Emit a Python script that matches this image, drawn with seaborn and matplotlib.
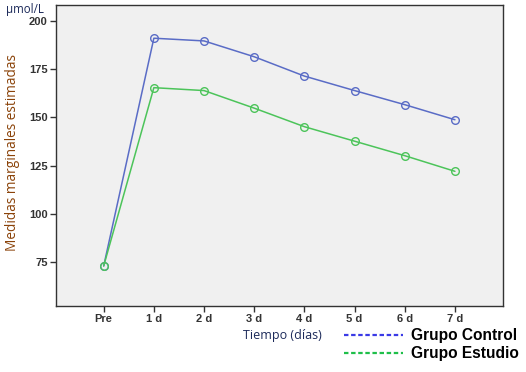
import pandas as pd
import seaborn as sns
import matplotlib.pyplot as plt
from matplotlib.lines import Line2D

# Datos
tiempos = ['Pre', '1 d', '2 d', '3 d', '4 d', '5 d', '6 d', '7 d']
control = [73, 190.9, 189.5, 181.3, 171.3, 163.8, 156.5, 148.7]
estudio = [73, 165.3, 163.8, 154.7, 145.1, 137.6, 130.1, 122.0]
grupos = ['Grupo Control', 'Grupo Estudio']
colores_lineas = ['#5a6cc6', '#4cc45a']
colores_leyenda = ['#3a3ae6', '#1fbf4a']

df = pd.DataFrame({
    'Tiempo': tiempos * 2,
    'Valor': control + estudio,
    'Grupo': [grupos[0]] * len(tiempos) + [grupos[1]] * len(tiempos),
})

sns.set_style('ticks')
plt.rcParams['font.family'] = ['Liberation Sans', 'DejaVu Sans']

fig = plt.figure(figsize=(5.26, 3.72), dpi=100)
ax = fig.add_axes([0.1065, 0.178, 0.849, 0.8086])
ax.set_facecolor('#f0f0f0')

sns.lineplot(data=df, x='Tiempo', y='Valor', hue='Grupo', sort=False,
             palette=dict(zip(grupos, colores_lineas)), marker='o',
             markersize=5.5, markerfacecolor='none', markeredgewidth=1.0,
             linewidth=1.1, legend=False, ax=ax)
for line in ax.lines:
    line.set_markeredgecolor(line.get_color())

ax.set_xlim(-0.95, 7.95)
ax.set_ylim(52.4, 208.1)
ax.set_yticks([75, 100, 125, 150, 175, 200])
ax.set_xlabel('')
ax.set_ylabel('')

for s in ax.spines.values():
    s.set_color('#333333')
    s.set_linewidth(1.0)
ax.tick_params(axis='both', direction='out', length=4, width=1.0,
               color='#333333', labelcolor='#333333', labelsize=8, pad=2)
for lbl in ax.get_xticklabels() + ax.get_yticklabels():
    lbl.set_fontweight('bold')

fig.text(13 / 526, 1 - 152 / 372, 'Medidas marginales estimadas', rotation=90,
         ha='center', va='center', fontsize=9.8, color='#8a4208',
         family=['Open Sans', 'DejaVu Sans'])
fig.text(6 / 526, 1 - 10 / 372, 'µmol/L', ha='left', va='center',
         fontsize=8.3, color='#1c2a5a', family=['Open Sans', 'DejaVu Sans'])
fig.text(282 / 526, 1 - 335 / 372, 'Tiempo (días)', ha='center', va='center',
         fontsize=9, color='#1c2a5a', family=['Open Sans', 'DejaVu Sans'])

handles = [Line2D([], [], color=c, linewidth=1.6, linestyle=(0, (2, 1.2)))
           for c in colores_leyenda]
leg = fig.legend(handles, grupos, loc='upper left',
                 bbox_to_anchor=(344 / 526, 1 - 328 / 372), frameon=False,
                 borderpad=0, borderaxespad=0,
                 handlelength=3.8, handletextpad=0.5, labelspacing=0.2,
                 labelcolor='black',
                 prop={'family': 'Liberation Sans', 'weight': 'bold', 'size': 11.2})

fig.savefig('out.png', dpi=100)
